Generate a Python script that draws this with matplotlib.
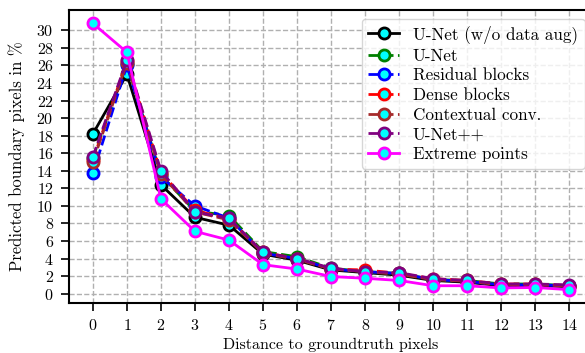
import matplotlib
matplotlib.use('Agg')
import matplotlib.pyplot as plt

distance = list(range(15))

unet_no_aug = [18.2, 25.0, 12.4, 8.7, 7.8, 4.5, 3.8, 2.7, 2.4, 2.1, 1.5, 1.3, 0.9, 0.9, 0.8]
unet = [15.5, 26.2, 13.5, 9.4, 8.9, 4.8, 4.2, 2.9, 2.5, 2.3, 1.6, 1.5, 1.1, 1.1, 0.9]
residual = [13.7, 26.0, 13.3, 10.0, 8.6, 4.6, 4.0, 2.8, 2.5, 2.3, 1.6, 1.4, 1.0, 1.0, 0.9]
dense = [15.2, 26.5, 13.8, 9.5, 8.5, 4.7, 4.0, 2.8, 2.7, 2.3, 1.7, 1.5, 1.1, 1.1, 0.9]
contextual = [15.0, 26.3, 13.6, 9.3, 8.4, 4.6, 3.9, 2.8, 2.5, 2.2, 1.6, 1.4, 1.0, 1.0, 0.9]
unetpp = [15.6, 26.6, 14.0, 9.3, 8.6, 4.7, 4.0, 2.9, 2.5, 2.4, 1.7, 1.5, 1.1, 1.1, 1.0]
extreme = [30.8, 27.5, 10.8, 7.1, 6.1, 3.3, 2.8, 1.95, 1.75, 1.5, 0.9, 0.9, 0.65, 0.7, 0.45]

series = [
    ('U-Net (w/o data aug)', unet_no_aug, 'black', '-'),
    ('U-Net', unet, 'green', '--'),
    ('Residual blocks', residual, 'blue', '--'),
    ('Dense blocks', dense, 'red', '--'),
    ('Contextual conv.', contextual, 'brown', '--'),
    ('U-Net++', unetpp, 'purple', '--'),
    ('Extreme points', extreme, 'magenta', '-'),
]

plt.rcParams['font.family'] = 'serif'
plt.rcParams['font.serif'] = ['cmr10', 'DejaVu Serif']
plt.rcParams['mathtext.fontset'] = 'cm'
plt.rcParams['axes.formatter.use_mathtext'] = True
plt.rcParams['font.size'] = 11.5

fig = plt.figure(figsize=(5.85, 3.53), dpi=100)
ax = fig.add_axes([0.118, 0.1416, 0.896, 0.830])

for label, vals, color, ls in series:
    ax.plot(distance, vals, linestyle=ls, color=color, linewidth=2,
            marker='o', markersize=8, markerfacecolor='cyan',
            markeredgecolor=color, markeredgewidth=2, label=label)

ax.set_xticks(distance)
ax.set_yticks(range(0, 31, 2))
ax.tick_params(length=6, width=1.2, pad=5, labelsize=11.5)
ax.grid(True, linestyle='--', color='#b0b0b0', linewidth=1)
ax.set_xlabel('Distance to groundtruth pixels', labelpad=3)
ax.set_ylabel('Predicted boundary pixels in %', fontsize=12, labelpad=8)
for s in ax.spines.values():
    s.set_linewidth(1.5)
ax.legend(loc='upper right', fontsize=12.3, handlelength=1.8, labelspacing=0.25,
          borderaxespad=0.5)

plt.savefig('out.png', dpi=100)
